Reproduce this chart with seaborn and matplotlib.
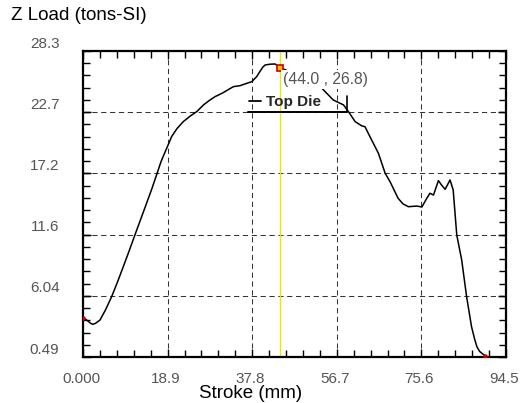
import numpy as np
import pandas as pd
import matplotlib
matplotlib.use("Agg")
import matplotlib.pyplot as plt
import matplotlib.transforms as mtransforms
from matplotlib.ticker import FixedLocator, MultipleLocator
from matplotlib.lines import Line2D
import seaborn as sns

# ---- data ----
stroke = [0.0, 0.5, 1.1, 1.7, 2.2, 2.8, 3.8, 5.0, 6.4, 7.7, 9.0, 10.3, 11.6,
          12.9, 14.2, 15.4, 16.5, 17.4, 18.1, 18.7, 19.8, 21.0, 22.4, 24.0,
          25.4, 26.9, 28.2, 29.5, 31.3, 32.5, 33.6, 35.1, 36.5, 37.7, 38.8,
          39.5, 40.2, 40.7, 41.8, 42.9, 44.0, 46.2, 49.6, 53.3, 55.9, 58.2,
          59.3, 60.8, 62.3, 63.0, 64.1, 66.0, 67.5, 68.6, 70.4, 71.5, 72.7,
          74.6, 75.7, 76.8, 77.5, 78.3, 79.4, 80.1, 80.9, 82.0, 82.7, 83.5,
          84.6, 85.7, 86.8, 87.5, 88.0, 88.6, 89.1, 89.8]
load = [4.01, 3.95, 3.76, 3.55, 3.46, 3.55, 3.85, 4.75, 5.97, 7.30, 8.70,
        10.12, 11.58, 13.02, 14.46, 15.80, 17.12, 18.21, 18.90, 19.46, 20.52,
        21.25, 21.88, 22.40, 22.79, 23.39, 23.80, 24.15, 24.51, 24.80, 25.06,
        25.15, 25.35, 25.51, 25.97, 26.42, 26.85, 27.03, 27.10, 27.12, 26.80,
        26.40, 25.70, 24.94, 23.85, 23.40, 22.79, 21.88, 21.49, 21.42, 20.52,
        19.00, 17.19, 16.42, 14.91, 14.40, 14.15, 14.21, 14.12, 14.91, 15.37,
        15.21, 16.52, 16.12, 15.73, 16.58, 15.67, 11.58, 9.31, 5.97, 3.24,
        2.10, 1.43, 1.00, 0.83, 0.62]

x_ticks = [0.0, 18.9, 37.8, 56.7, 75.6, 94.5]
x_tick_labels = ["0.000", "18.9", "37.8", "56.7", "75.6", "94.5"]
y_ticks = [0.49, 6.05, 11.61, 17.17, 22.74, 28.3]
y_tick_labels = ["0.49", "6.04", "11.6", "17.2", "22.7", "28.3"]

cursor_x = 44.0
cursor_y = 26.8
cursor_label = "(44.0 , 26.8)"
series_name = "Top Die"
x_title = "Stroke (mm)"
y_title = "Z Load (tons-SI)"

# ---- style ----
sns.set_style("ticks")
plt.rcParams["font.family"] = ["Liberation Sans", "DejaVu Sans"]

df = pd.DataFrame({"stroke": stroke, "load": load})

fig = plt.figure(figsize=(5.21, 4.03), dpi=100)
ax = fig.add_axes([83 / 521, 1 - 357 / 403, 423 / 521, 306 / 403])

ax.set_xlim(x_ticks[0], x_ticks[-1])
ax.set_ylim(y_ticks[0], y_ticks[-1])

# grid
ax.grid(True, which="major", color="#333333", linestyle=(0, (5, 3.5)),
        linewidth=0.75)
ax.set_axisbelow(True)

# cursor line
ax.axvline(cursor_x, color="#e8e800", linewidth=1.0, zorder=2)

sns.lineplot(data=df, x="stroke", y="load", sort=False, estimator=None,
             color="black", linewidth=1.1, ax=ax, zorder=3)

# end markers and cursor marker
ax.plot([stroke[0], stroke[-1]], [load[0], load[-1]], linestyle="none",
        marker="o", markersize=2.2, color="#cc0000", zorder=4)
ax.plot([cursor_x], [cursor_y], linestyle="none", marker="s", markersize=4.5,
        markerfacecolor="#f0c000", markeredgecolor="#cc0000",
        markeredgewidth=1.2, zorder=5)

ax.annotate(cursor_label, xy=(cursor_x, cursor_y), xytext=(2.2, -8.5),
            textcoords="offset points", ha="left", va="center",
            fontsize=11.3, color="#555555", zorder=6,
            bbox=dict(boxstyle="square,pad=0.12", facecolor="white",
                      edgecolor="none"))

# legend
handle = Line2D([], [], color="black", linewidth=1.3)
leg = ax.legend([handle], [series_name], loc="lower left",
                bbox_to_anchor=(0.366, 0.774), frameon=False,
                handlelength=0.8, handletextpad=0.35, borderpad=0.2,
                prop={"weight": "bold", "size": 11})
leg.set_zorder(7)
# legend box edges (bottom and right only visible)
box_x0, box_x1, box_y0, box_y1 = 0.390, 0.624, 0.8007, 0.853
ax.plot([box_x0, box_x1], [box_y0, box_y0], transform=ax.transAxes,
        color="black", linewidth=1.4, zorder=7, clip_on=False)
ax.plot([box_x1, box_x1], [box_y0, box_y1], transform=ax.transAxes,
        color="black", linewidth=1.2, zorder=7, clip_on=False)

# ticks
ax.xaxis.set_major_locator(FixedLocator(x_ticks))
ax.yaxis.set_major_locator(FixedLocator(y_ticks))
ax.xaxis.set_minor_locator(MultipleLocator(18.9 / 5))
ax.yaxis.set_minor_locator(FixedLocator(
    list(np.arange(y_ticks[0], y_ticks[-1], (y_ticks[-1] - y_ticks[0]) / 25))))
ax.set_xticklabels(x_tick_labels)
ax.set_yticklabels(y_tick_labels)
ax.tick_params(which="both", direction="in", top=True, right=True,
               color="black", width=1.0, labelsize=11, labelcolor="#555555")
ax.tick_params(which="major", length=6)
ax.tick_params(which="minor", length=5)
ax.tick_params(axis="x", which="major", pad=11)
ax.tick_params(axis="y", which="major", pad=17)

offset_y = mtransforms.ScaledTranslation(0, 9 / 100, fig.dpi_scale_trans)
for lbl in ax.get_yticklabels():
    lbl.set_transform(lbl.get_transform() + offset_y)
offset_x = mtransforms.ScaledTranslation(-2 / 100, 0, fig.dpi_scale_trans)
for lbl in ax.get_xticklabels():
    lbl.set_transform(lbl.get_transform() + offset_x)

for sp in ax.spines.values():
    sp.set_color("black")
    sp.set_linewidth(1.6)

ax.set_xlabel("")
ax.set_ylabel("")
fig.text(251 / 521, 1 - 394 / 403, x_title, ha="center", va="center",
         fontsize=13.5, color="black")
fig.text(11 / 521, 1 - 16 / 403, y_title, ha="left", va="center",
         fontsize=13.5, color="black")

fig.savefig("out.png", dpi=100)
